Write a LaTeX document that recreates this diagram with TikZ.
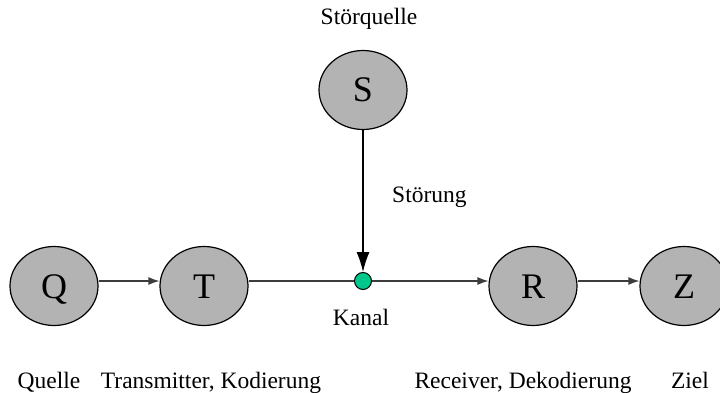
\documentclass[tikz,border=0pt]{standalone}
\usepackage{fontspec}
\setmainfont{Liberation Serif}
\usetikzlibrary{shapes.geometric,arrows.meta}
\definecolor{nodegray}{RGB}{179,179,179}
\definecolor{kanalgreen}{RGB}{0,200,140}
\definecolor{wire}{RGB}{60,60,60}
\begin{document}
\begin{tikzpicture}[x=1pt,y=-1pt,
  station/.style={ellipse,draw=black,line width=1.2pt,fill=nodegray,
    minimum width=88pt,minimum height=79pt,inner sep=0pt,
    text height=24pt,text depth=0pt,
    font=\fontsize{36}{40}\selectfont},
  caption/.style={inner sep=0pt,anchor=base,font=\fontsize{23.5}{28}\selectfont},
  wireline/.style={draw=wire,line width=1.3pt},
  flow/.style={wireline,-{Latex[length=11pt,width=8pt]}},
  noise/.style={draw=black,line width=1.1pt,-{Latex[length=20pt,width=13pt]}}]
\clip (0,0) rectangle (720,393);
% stations of the chain
\node[station] (Q) at (54,286) {Q};
\node[station] (T) at (204,286) {T};
\node[station] (R) at (533,286) {R};
\node[station] (Z) at (684,286) {Z};
\node[station] (S) at (363,90) {S};
% channel point on the signal line
\node[circle,draw=black,line width=1pt,fill=kanalgreen,minimum size=17pt,inner sep=0pt] (K) at (363,281) {};
% connectors, running a little above the station centres
\draw[flow] ([yshift=5pt]Q.east) -- ([yshift=5pt]T.west);
\draw[wireline] ([yshift=5pt]T.east) -- (K);
\draw[flow] (K) -- ([yshift=5pt]R.west);
\draw[flow] ([yshift=5pt]R.east) -- ([yshift=5pt]Z.west);
\draw[noise] (S) -- (K);
% captions
\node[caption] (lS) at (369,25) {Störquelle};
\node[caption,anchor=base west] (lStoer) at (392,202) {Störung};
\node[caption] (lK) at (361,325) {Kanal};
\node[caption] (lQ) at (49,388) {Quelle};
\node[caption] (lT) at (211,388) {Transmitter, Kodierung};
\node[caption] (lR) at (523,388) {Receiver, Dekodierung};
\node[caption] (lZ) at (690,388) {Ziel};
\end{tikzpicture}
\end{document}
